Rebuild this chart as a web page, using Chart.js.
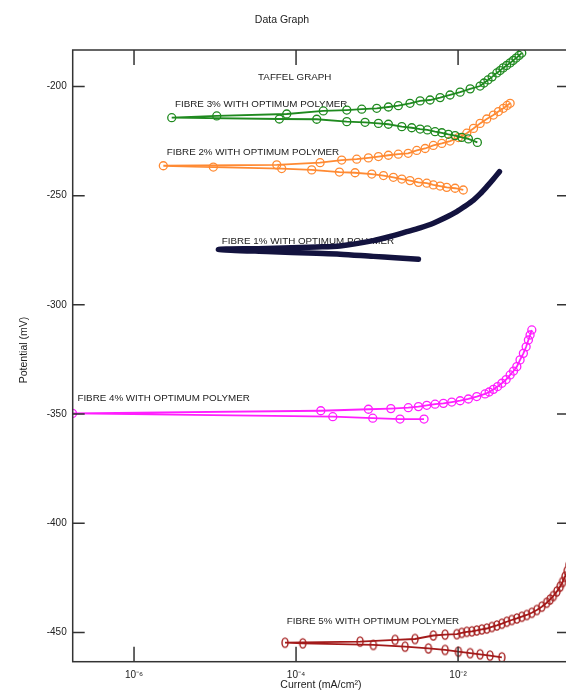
<!DOCTYPE html>
<html>
<head>
<meta charset="utf-8">
<title>Taffel Graph</title>
<script src="https://cdn.jsdelivr.net/npm/chart.js@4.4.1/dist/chart.umd.min.js"></script>
<style>
  html, body { margin: 0; padding: 0; background: #fff; overflow: hidden; }
  #wrap { width: 580px; height: 693px; }
</style>
</head>
<body>
<div id="wrap"><canvas id="tafel" width="580" height="693"></canvas></div>
<script>
// Axis ticks and limits
const currentTicks = [1e-6, 1e-4, 1e-2];
const currentTickLabels = ['10\u207B\u2076', '10\u207B\u2074', '10\u207B\u00B2'];
const potentialTicks = [-450, -400, -350, -300, -250, -200];
const currentRange = [1.75e-7, 0.234];
const potentialRange = [-463.4, -183.3];

// Polarisation scans: current density (mA/cm²) and potential (mV), in scan order
const fibre1Current = [3.24e-3, 1.67e-3, 9.00e-4, 3.49e-4, 1.80e-4, 4.35e-5, 1.10e-5, 4.35e-5, 1.80e-4, 3.49e-4,
  9.00e-4, 1.45e-3, 2.33e-3, 3.40e-3, 4.95e-3, 6.92e-3, 9.64e-3, 1.22e-2, 1.55e-2, 1.87e-2,
  2.26e-2, 2.70e-2, 3.24e-2];
const fibre1Potential = [-279.1, -278.4, -277.8, -276.8, -276.4, -275.6, -274.6, -274.2, -273.5, -273.0,
  -270.6, -268.7, -266.5, -264.7, -262.6, -260.1, -257.3, -254.8, -252.0, -249.2,
  -245.9, -242.6, -239.0];

const fibre2Current = [1.16e-2, 9.18e-3, 7.24e-3, 6.00e-3, 4.95e-3, 4.11e-3, 3.24e-3, 2.55e-3, 2.02e-3, 1.59e-3,
  1.20e-3, 8.61e-4, 5.35e-4, 3.43e-4, 1.56e-4, 6.65e-5, 9.53e-6, 2.30e-6, 5.78e-5, 1.98e-4,
  3.66e-4, 5.61e-4, 7.82e-4, 1.04e-3, 1.38e-3, 1.83e-3, 2.42e-3, 3.09e-3, 3.92e-3, 4.95e-3,
  6.30e-3, 7.96e-3, 1.01e-2, 1.28e-2, 1.55e-2, 1.87e-2, 2.26e-2, 2.73e-2, 3.15e-2, 3.62e-2,
  4.03e-2, 4.39e-2];
const fibre2Potential = [-247.4, -246.6, -246.2, -245.6, -245.1, -244.3, -243.9, -243.1, -242.4, -241.6,
  -240.8, -240.1, -239.5, -239.2, -238.2, -237.6, -236.9, -236.3, -235.9, -234.9,
  -233.7, -233.3, -232.7, -232.1, -231.5, -231.0, -230.6, -229.3, -228.4, -227.0,
  -226.1, -225.0, -223.4, -221.4, -219.2, -216.9, -214.9, -213.1, -211.5, -210.0,
  -208.7, -207.7];

const fibre3Current = [1.73e-2, 1.34e-2, 1.11e-2, 9.18e-3, 7.59e-3, 6.30e-3, 5.20e-3, 4.18e-3, 3.40e-3, 2.68e-3,
  2.02e-3, 1.38e-3, 1.04e-3, 7.11e-4, 4.23e-4, 1.80e-4, 6.22e-5, 2.92e-6, 1.05e-5, 7.67e-5,
  2.17e-4, 4.23e-4, 6.47e-4, 9.91e-4, 1.38e-3, 1.83e-3, 2.55e-3, 3.40e-3, 4.51e-3, 6.00e-3,
  7.96e-3, 1.06e-2, 1.41e-2, 1.87e-2, 2.09e-2, 2.34e-2, 2.63e-2, 3.01e-2, 3.30e-2, 3.60e-2,
  3.97e-2, 4.39e-2, 4.78e-2, 5.20e-2, 5.66e-2, 6.11e-2];
const fibre3Potential = [-225.6, -224.0, -223.3, -222.5, -221.9, -221.2, -220.7, -219.9, -219.5, -218.9,
  -218.4, -217.3, -216.9, -216.4, -216.1, -215.0, -214.9, -214.3, -213.5, -212.6,
  -211.2, -210.8, -210.4, -210.0, -209.4, -208.8, -207.7, -206.6, -206.2, -205.1,
  -203.9, -202.6, -201.1, -199.8, -198.4, -197.0, -195.6, -193.8, -192.7, -191.5,
  -190.4, -189.2, -188.1, -187.0, -185.8, -184.7];

const fibre4Current = [3.80e-3, 1.92e-3, 8.85e-4, 2.84e-4, 1.74e-7, 2.02e-4, 7.82e-4, 1.48e-3, 2.43e-3, 3.24e-3,
  4.11e-3, 5.20e-3, 6.59e-3, 8.36e-3, 1.06e-2, 1.34e-2, 1.70e-2, 2.15e-2, 2.42e-2, 2.73e-2,
  3.08e-2, 3.47e-2, 3.92e-2, 4.39e-2, 4.84e-2, 5.31e-2, 5.82e-2, 6.40e-2, 6.92e-2, 7.38e-2,
  7.74e-2, 8.13e-2];
const fibre4Potential = [-352.3, -352.3, -351.9, -351.2, -349.7, -348.5, -347.8, -347.5, -347.1, -346.6,
  -346.0, -345.5, -345.1, -344.5, -343.9, -343.1, -342.0, -340.8, -339.9, -338.7,
  -337.4, -335.9, -334.2, -332.1, -330.3, -328.3, -325.2, -322.2, -319.2, -316.1,
  -313.8, -311.5];

const fibre5Current = [3.47e-2, 2.48e-2, 1.87e-2, 1.41e-2, 1.01e-2, 6.92e-3, 4.30e-3, 2.22e-3, 9.00e-4, 1.21e-4,
  7.31e-5, 6.17e-4, 1.67e-3, 2.94e-3, 4.95e-3, 6.92e-3, 9.64e-3, 1.11e-2, 1.28e-2, 1.48e-2,
  1.70e-2, 1.96e-2, 2.26e-2, 2.61e-2, 3.01e-2, 3.47e-2, 3.99e-2, 4.60e-2, 5.31e-2, 6.11e-2,
  7.05e-2, 8.13e-2, 9.38e-2, 0.108, 0.124, 0.137, 0.150, 0.166, 0.182, 0.195,
  0.209, 0.222, 0.234];
const fibre5Potential = [-461.4, -460.6, -460.0, -459.5, -458.8, -458.0, -457.3, -456.5, -455.7, -455.0,
  -454.7, -454.2, -453.4, -453.0, -451.4, -451.0, -450.8, -450.2, -449.7, -449.5,
  -449.1, -448.6, -448.2, -447.5, -446.8, -446.0, -445.1, -444.3, -443.6, -442.8,
  -442.0, -441.0, -439.7, -438.2, -436.4, -434.9, -433.3, -431.2, -429.0, -426.9,
  -424.5, -421.9, -419.1];

// Text placed inside the plot, anchored in data coordinates (left edge, baseline)
const noteTexts = ['TAFFEL GRAPH',
  'FIBRE 3% WITH OPTIMUM POLYMER',
  'FIBRE 2% WITH OPTIMUM POLYMER',
  'FIBRE 1% WITH OPTIMUM POLYMER',
  'FIBRE 4% WITH OPTIMUM POLYMER',
  'FIBRE 5% WITH OPTIMUM POLYMER'];
const noteCurrents = [3.40e-5, 3.21e-6, 2.54e-6, 1.21e-5, 2.00e-7, 7.67e-5];
const notePotentials = [-197.0, -209.4, -231.6, -272.1, -344.2, -446.1];

const FONT = "Arial, 'Liberation Sans', sans-serif";
const TEXT = '#222';

const toPoints = (cur, pot) => cur.map((c, i) => ({ x: c, y: pot[i] }));

// Upright ellipse used as the marker for the 5% scan
function ellipseMarker(color) {
  const c = document.createElement('canvas');
  c.width = 10; c.height = 13;
  const g = c.getContext('2d');
  g.strokeStyle = color;
  g.lineWidth = 1.4;
  g.beginPath();
  g.ellipse(5, 6.5, 3, 4.6, 0, 0, Math.PI * 2);
  g.stroke();
  return c;
}

function circleSeries(label, cur, pot, color) {
  return {
    label, data: toPoints(cur, pot), showLine: true,
    borderColor: color, borderWidth: 1.8,
    pointRadius: 4, pointBorderWidth: 1.3,
    pointBorderColor: color, pointBackgroundColor: 'rgba(0,0,0,0)',
    tension: 0
  };
}

const maroon = '#a31a1a';

const datasets = [
  circleSeries('FIBRE 3%', fibre3Current, fibre3Potential, '#1f8a1f'),
  circleSeries('FIBRE 2%', fibre2Current, fibre2Potential, '#ff8a33'),
  {
    label: 'FIBRE 1%', data: toPoints(fibre1Current, fibre1Potential), showLine: true,
    borderColor: '#13133f', borderWidth: 5.5, pointRadius: 0, tension: 0.3,
    borderCapStyle: 'round', borderJoinStyle: 'round'
  },
  circleSeries('FIBRE 4%', fibre4Current, fibre4Potential, '#ff1eff'),
  Object.assign(circleSeries('FIBRE 5%', fibre5Current, fibre5Potential, maroon), {
    pointStyle: ellipseMarker(maroon)
  })
];

const decorations = {
  id: 'decorations',
  beforeDatasetsDraw(chart) {
    const { ctx, scales: { x, y } } = chart;
    ctx.save();
    ctx.fillStyle = TEXT;
    ctx.font = '9.8px ' + FONT;
    ctx.textAlign = 'left';
    ctx.textBaseline = 'alphabetic';
    noteTexts.forEach((t, i) => {
      ctx.fillText(t, x.getPixelForValue(noteCurrents[i]), y.getPixelForValue(notePotentials[i]));
    });
    ctx.restore();
  },
  afterDraw(chart) {
    const { ctx, chartArea: a, scales: { x, y } } = chart;
    ctx.save();
    // frame
    ctx.strokeStyle = '#333';
    ctx.lineWidth = 1.5;
    ctx.strokeRect(a.left, a.top, a.right - a.left, a.bottom - a.top);
    // inward tick marks on all four sides
    ctx.beginPath();
    x.ticks.forEach(t => {
      const px = x.getPixelForValue(t.value);
      ctx.moveTo(px, a.bottom); ctx.lineTo(px, a.bottom - 15);
      ctx.moveTo(px, a.top); ctx.lineTo(px, a.top + 15);
    });
    y.ticks.forEach(t => {
      const py = y.getPixelForValue(t.value);
      ctx.moveTo(a.left, py); ctx.lineTo(a.left + 12, py);
      ctx.moveTo(a.right, py); ctx.lineTo(a.right - 12, py);
    });
    ctx.stroke();
    // titles
    ctx.fillStyle = TEXT;
    ctx.font = '10.5px ' + FONT;
    ctx.textAlign = 'center';
    ctx.textBaseline = 'alphabetic';
    ctx.fillText('Data Graph', 282, 23);
    ctx.fillText('Current (mA/cm\u00B2)', (a.left + a.right) / 2, 688);
    ctx.translate(27, 350);
    ctx.rotate(-Math.PI / 2);
    ctx.fillText('Potential (mV)', 0, 0);
    ctx.restore();
  }
};

new Chart(document.getElementById('tafel'), {
  type: 'scatter',
  data: { datasets },
  options: {
    responsive: false,
    animation: false,
    devicePixelRatio: 1,
    layout: { padding: { top: 50, right: 11, left: 0, bottom: 0 } },
    plugins: {
      legend: { display: false },
      tooltip: { enabled: false },
      title: { display: false }
    },
    scales: {
      x: {
        type: 'logarithmic',
        position: 'bottom',
        min: currentRange[0], max: currentRange[1],
        grid: { display: false, drawTicks: false },
        border: { display: false },
        ticks: {
          autoSkip: false, maxRotation: 0, minRotation: 0, padding: 8,
          color: TEXT, font: { family: FONT, size: 10 },
          callback: (v, i) => currentTickLabels[i]
        },
        afterBuildTicks: s => { s.ticks = currentTicks.map(v => ({ value: v })); },
        afterFit: s => { s.height = 31.3; }
      },
      y: {
        type: 'linear',
        position: 'left',
        min: potentialRange[0], max: potentialRange[1],
        grid: { display: false, drawTicks: false },
        border: { display: false },
        ticks: {
          padding: 6, color: TEXT, font: { family: FONT, size: 10 },
          callback: v => String(v)
        },
        afterBuildTicks: s => { s.ticks = potentialTicks.map(v => ({ value: v })); },
        afterFit: s => { s.width = 72.7; }
      }
    }
  },
  plugins: [decorations]
});
</script>
</body>
</html>
